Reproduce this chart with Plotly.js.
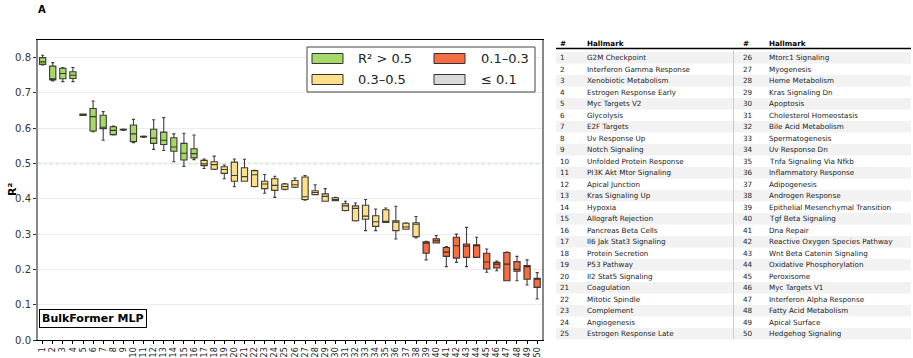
<!DOCTYPE html>
<html>
<head>
<meta charset="utf-8">
<script src="https://cdn.plot.ly/plotly-3.0.1.min.js"></script>
<style>html,body{margin:0;padding:0;background:#fff;}#chart{width:913px;height:358px;}</style>
</head>
<body>
<div id="chart"></div>
<script>
// ---- data ----
const positions = Array.from({length: 50}, (_, i) => i + 1);
const lowerWhisker = [0.779,0.734,0.732,0.732,0.636,0.590,0.566,0.581,0.594,0.559,
  0.574,0.540,0.537,0.505,0.492,0.511,0.486,0.483,0.457,0.434,
  0.450,0.434,0.416,0.404,0.426,0.432,0.396,0.412,0.393,0.395,
  0.366,0.337,0.310,0.310,0.333,0.286,0.314,0.289,0.227,0.275,
  0.208,0.220,0.208,0.234,0.192,0.196,0.168,0.168,0.156,0.116];
const q1Values = [0.781,0.737,0.740,0.741,0.636,0.592,0.599,0.582,0.595,0.562,
  0.575,0.557,0.554,0.535,0.510,0.516,0.494,0.484,0.472,0.450,
  0.450,0.435,0.429,0.424,0.427,0.433,0.398,0.412,0.393,0.395,
  0.367,0.338,0.342,0.322,0.333,0.310,0.314,0.293,0.246,0.275,
  0.237,0.232,0.234,0.234,0.201,0.204,0.168,0.195,0.172,0.149];
const medianValues = [0.788,0.740,0.755,0.750,0.638,0.633,0.603,0.594,0.596,0.584,
  0.576,0.572,0.566,0.547,0.529,0.528,0.499,0.497,0.483,0.466,
  0.463,0.468,0.442,0.438,0.435,0.440,0.406,0.418,0.407,0.398,
  0.380,0.373,0.351,0.335,0.336,0.334,0.320,0.328,0.274,0.281,
  0.249,0.267,0.266,0.267,0.221,0.215,0.215,0.200,0.208,0.172];
const q3Values = [0.800,0.776,0.770,0.760,0.640,0.656,0.637,0.604,0.597,0.609,
  0.577,0.597,0.589,0.573,0.557,0.542,0.509,0.505,0.491,0.504,
  0.488,0.480,0.450,0.457,0.442,0.452,0.462,0.423,0.414,0.403,
  0.386,0.380,0.382,0.352,0.369,0.338,0.331,0.332,0.278,0.287,
  0.262,0.291,0.272,0.270,0.246,0.220,0.248,0.222,0.211,0.175];
const upperWhisker = [0.807,0.786,0.772,0.772,0.640,0.677,0.647,0.606,0.598,0.625,
  0.578,0.624,0.630,0.584,0.586,0.581,0.513,0.521,0.496,0.513,
  0.512,0.481,0.469,0.464,0.443,0.459,0.466,0.440,0.429,0.404,
  0.393,0.388,0.398,0.371,0.374,0.379,0.332,0.350,0.280,0.296,
  0.265,0.300,0.319,0.291,0.258,0.224,0.249,0.237,0.227,0.191];
const hallmarks = ["G2M Checkpoint","Interferon Gamma Response","Xenobiotic Metabolism","Estrogen Response Early","Myc Targets V2",
  "Glycolysis","E2F Targets","Uv Response Up","Notch Signaling","Unfolded Protein Response",
  "PI3K Akt Mtor Signaling","Apical Junction","Kras Signaling Up","Hypoxia","Allograft Rejection",
  "Pancreas Beta Cells","Il6 Jak Stat3 Signaling","Protein Secretion","P53 Pathway","Il2 Stat5 Signaling",
  "Coagulation","Mitotic Spindle","Complement","Angiogenesis","Estrogen Response Late",
  "Mtorc1 Signaling","Myogenesis","Heme Metabolism","Kras Signaling Dn","Apoptosis",
  "Cholesterol Homeostasis","Bile Acid Metabolism","Spermatogenesis","Uv Response Dn","Tnfa Signaling Via Nfkb",
  "Inflammatory Response","Adipogenesis","Androgen Response","Epithelial Mesenchymal Transition","Tgf Beta Signaling",
  "Dna Repair","Reactive Oxygen Species Pathway","Wnt Beta Catenin Signaling","Oxidative Phosphorylation","Peroxisome",
  "Myc Targets V1","Interferon Alpha Response","Fatty Acid Metabolism","Apical Surface","Hedgehog Signaling"];
const groupLabels = ["R² > 0.5","0.3–0.5","0.1–0.3","≤ 0.1"];
const groupColors = ["#a6d96a","#fee08b","#f46d43","#d9d9d9"];
const threshold = 0.5;

// ---- layout helpers ----
const L = 38, T = 40, W = 504, H = 300;
const px = x => (x - L) / W;
const py = y => 1 - (y - T) / H;
const FONT = "DejaVu Sans, sans-serif";

function groupOf(m) { return m > 0.5 ? 0 : (m > 0.3 ? 1 : (m > 0.1 ? 2 : 3)); }

const traces = [];
for (let g = 0; g < 4; g++) {
  const idx = positions.map((p, i) => i).filter(i => groupOf(medianValues[i]) === g);
  if (!idx.length) continue;
  traces.push({
    type: "box",
    x: idx.map(i => positions[i]),
    q1: idx.map(i => q1Values[i]),
    median: idx.map(i => medianValues[i]),
    q3: idx.map(i => q3Values[i]),
    lowerfence: idx.map(i => lowerWhisker[i]),
    upperfence: idx.map(i => upperWhisker[i]),
    boxpoints: false,
    width: 0.62,
    whiskerwidth: 0.5,
    fillcolor: groupColors[g],
    line: {color: "rgba(30,30,30,0.85)", width: 1.1},
    showlegend: false,
    hoverinfo: "skip"
  });
}

const shapes = [
  {type: "line", xref: "paper", yref: "y", x0: 0, x1: 1, y0: threshold, y1: threshold,
   line: {color: "#86cfa0", width: 1.5, dash: "dot"}, layer: "below"}
];
const annotations = [];

// panel letter
annotations.push({xref: "paper", yref: "paper", x: px(36), y: py(10), xanchor: "left", yanchor: "middle",
  text: "<b>A</b>", showarrow: false, font: {family: FONT, size: 10, color: "#000"}});
// y-axis title placed precisely
annotations.push({xref: "paper", yref: "paper", x: px(12), y: py(190), xanchor: "center", yanchor: "middle",
  text: "<b>R²</b>", textangle: -90, showarrow: false, font: {family: FONT, size: 11, color: "#000"}});
// model label
annotations.push({xref: "paper", yref: "paper", x: px(39), y: py(318), xanchor: "left", yanchor: "middle",
  text: "<b>BulkFormer MLP</b>", showarrow: false, bgcolor: "#fff", bordercolor: "#000", borderwidth: 1, borderpad: 2,
  font: {family: FONT, size: 11, color: "#000"}});

// manual legend
shapes.push({type: "rect", xref: "paper", yref: "paper", x0: px(307), x1: px(535), y0: py(47), y1: py(92),
  line: {color: "#444", width: 1}, fillcolor: "#fff", layer: "above"});
const legCols = [[312, 356], [434, 479]];
const legRows = [58.5, 79.5];
groupLabels.forEach((lab, k) => {
  const c = Math.floor(k / 2), r = k % 2;
  shapes.push({type: "rect", xref: "paper", yref: "paper",
    x0: px(legCols[c][0]), x1: px(legCols[c][0] + 31), y0: py(legRows[r] - 5), y1: py(legRows[r] + 5),
    line: {color: "#333", width: 1}, fillcolor: groupColors[k], layer: "above"});
  annotations.push({xref: "paper", yref: "paper", x: px(legCols[c][1]), y: py(legRows[r]), xanchor: "left", yanchor: "middle",
    text: lab, showarrow: false, font: {family: FONT, size: 13, color: "#222"}});
});

// table
const rowH = 11.5, row0 = 57.7;
const colNum = [558, 741], colName = [585, 767];
for (let r = 0; r < 25; r++) {
  if (r % 2 === 0) {
    shapes.push({type: "rect", xref: "paper", yref: "paper", x0: px(556), x1: px(911),
      y0: py(row0 + r * rowH - rowH / 2), y1: py(row0 + r * rowH + rowH / 2),
      line: {width: 0}, fillcolor: "#f2f2f2", layer: "below"});
  }
}
shapes.push({type: "line", xref: "paper", yref: "paper", x0: px(556), x1: px(911), y0: py(48.5), y1: py(48.5),
  line: {color: "#000", width: 1.5}});
shapes.push({type: "line", xref: "paper", yref: "paper", x0: px(733.5), x1: px(733.5), y0: py(49.5), y1: py(339),
  line: {color: "#cccccc", width: 1}});
for (let c = 0; c < 2; c++) {
  annotations.push({xref: "paper", yref: "paper", x: px(colNum[c]), y: py(44), xanchor: "left", yanchor: "middle",
    text: "<b>#</b>", showarrow: false, font: {family: FONT, size: 7.2, color: "#000"}});
  annotations.push({xref: "paper", yref: "paper", x: px(colName[c]), y: py(44), xanchor: "left", yanchor: "middle",
    text: "<b>Hallmark</b>", showarrow: false, font: {family: FONT, size: 7.2, color: "#000"}});
}
hallmarks.forEach((name, i) => {
  const c = Math.floor(i / 25), r = i % 25;
  const y = py(row0 + r * rowH);
  annotations.push({xref: "paper", yref: "paper", x: px(colNum[c]), y: y, xanchor: "left", yanchor: "middle",
    text: String(positions[i]), showarrow: false, font: {family: FONT, size: 7.2, color: "#222"}});
  annotations.push({xref: "paper", yref: "paper", x: px(colName[c]), y: y, xanchor: "left", yanchor: "middle",
    text: name, showarrow: false, font: {family: FONT, size: 7.2, color: "#222"}});
});

const layout = {
  width: 913, height: 358,
  margin: {l: L, r: 913 - L - W, t: T, b: 358 - T - H, pad: 0},
  paper_bgcolor: "#fff", plot_bgcolor: "#fff",
  font: {family: FONT, color: "#222"},
  boxmode: "overlay",
  xaxis: {
    range: [0.54, 50.48], tickmode: "array", tickvals: positions, ticktext: positions.map(String),
    tickangle: -90, tickfont: {family: FONT, size: 8, color: "#222"},
    ticks: "outside", ticklen: 3, tickcolor: "#000",
    showgrid: false, zeroline: false, showline: true, linecolor: "#000", linewidth: 1, mirror: true
  },
  yaxis: {
    range: [0, 0.85], tickmode: "array", tickvals: [0,0.1,0.2,0.3,0.4,0.5,0.6,0.7,0.8],
    ticktext: ["0.0","0.1","0.2","0.3","0.4","0.5","0.6","0.7","0.8"],
    tickfont: {family: FONT, size: 10, color: "#333"},
    ticks: "outside", ticklen: 3, tickcolor: "#333",
    showgrid: true, gridcolor: "#ececec", gridwidth: 1, zeroline: false,
    showline: true, linecolor: "#888", linewidth: 2, mirror: true,
    title: {text: ""}
  },
  shapes: shapes,
  annotations: annotations,
  showlegend: false
};

Plotly.newPlot("chart", traces, layout, {displayModeBar: false, staticPlot: true});
</script>
</body>
</html>
